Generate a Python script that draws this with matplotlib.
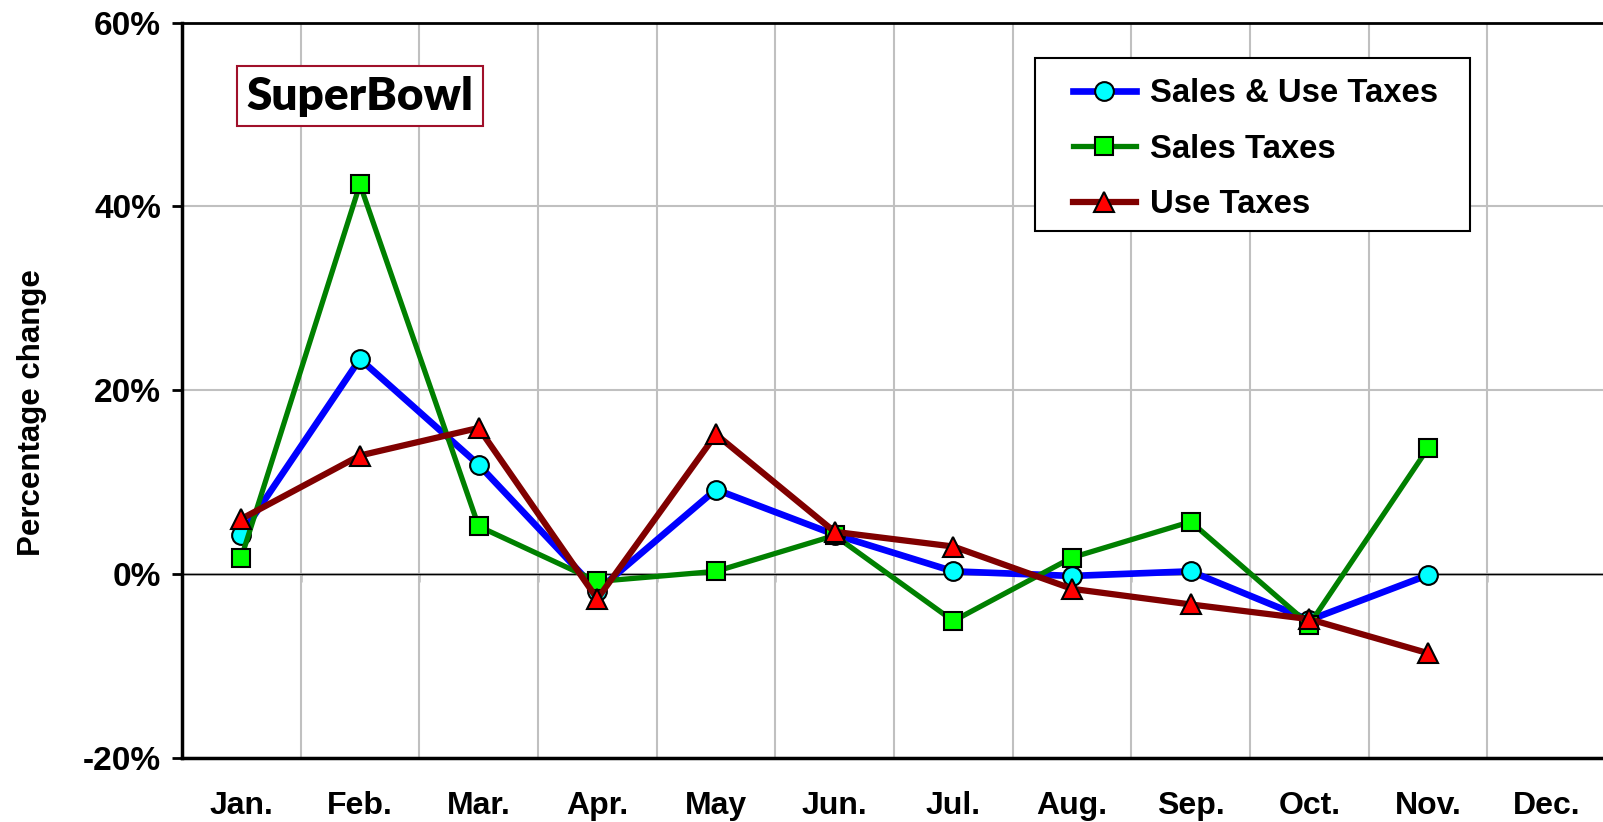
import numpy as np
import matplotlib
matplotlib.use("Agg")
from matplotlib import pyplot as plt
from matplotlib.patches import Rectangle
from matplotlib.ticker import FuncFormatter

# monthly percentage change
months = ["Jan.", "Feb.", "Mar.", "Apr.", "May", "Jun.",
          "Jul.", "Aug.", "Sep.", "Oct.", "Nov.", "Dec."]
sales_use = [4.3, 23.4, 11.9, -1.8, 9.2, 4.3, 0.3, -0.2, 0.3, -5.0, -0.1]
sales = [1.8, 42.4, 5.2, -0.8, 0.3, 4.2, -5.1, 1.8, 5.7, -5.5, 13.7]
use = [6.0, 12.9, 15.9, -2.7, 15.2, 4.6, 3.0, -1.6, -3.3, -4.9, -8.6]
y_ticks = [-20, 0, 20, 40, 60]

NARROW = ["Liberation Sans Narrow", "Liberation Sans", "DejaVu Sans"]
BOLD = ["Liberation Sans", "DejaVu Sans"]

fig = plt.figure(figsize=(16.03, 8.22), dpi=100)
ax = fig.add_axes([0.1135, 0.0779, 0.8884, 0.8947])

x = np.arange(1, len(months) + 1)
ax.set_xlim(0.5, len(months) + 0.5)
ax.set_ylim(y_ticks[0], y_ticks[-1])

# grid: vertical lines between categories, horizontal at the y ticks
ax.set_xticks(x)
ax.set_xticks(x[:-1] + 0.5, minor=True)
ax.set_yticks(y_ticks)
ax.grid(which="minor", axis="x", color="#c0c0c0", lw=1.5)
ax.grid(which="major", axis="y", color="#c0c0c0", lw=1.5)
ax.set_axisbelow(True)

# zero line with small category ticks (Excel style)
ax.axhline(0, color="black", lw=1, zorder=1)
zero = ax.secondary_xaxis((0 - y_ticks[0]) / (y_ticks[-1] - y_ticks[0]))
zero.set_xticks(x[:-1] + 0.5)
zero.tick_params(length=6, width=1, direction="out", labelbottom=False)
zero.spines["bottom"].set_linewidth(1)
zero.spines["bottom"].set_color("black")

n = len(sales_use)
ax.plot(x[:n], sales_use, color="#0000ff", lw=4.8, marker="o", ms=13.5,
        mfc="#00ffff", mec="black", mew=1.5, label="Sales & Use Taxes", zorder=3)
ax.plot(x[:n], sales, color="#008000", lw=3.8, marker="s", ms=13,
        mfc="#00ff00", mec="black", mew=1.5, label="Sales Taxes", zorder=3)
ax.plot(x[:n], use, color="#800000", lw=4.5, marker="^", ms=15,
        mfc="#ff0000", mec="black", mew=1.5, label="Use Taxes", zorder=3)

for side in ["left", "bottom", "top"]:
    ax.spines[side].set_color("black")
ax.spines["left"].set_linewidth(2.5)
ax.spines["bottom"].set_linewidth(2.5)
ax.spines["top"].set_linewidth(2)
ax.spines["right"].set_visible(False)

ax.yaxis.set_major_formatter(FuncFormatter(lambda v, _: f"{v:.0f}%"))
ax.tick_params(axis="y", length=7, width=2, pad=8)
ax.tick_params(axis="x", which="both", length=0, pad=24)
ax.set_xticklabels(months)
for lbl in ax.get_yticklabels():
    lbl.set_fontfamily(NARROW)
    lbl.set_fontweight("bold")
    lbl.set_fontsize(24)
for lbl in ax.get_xticklabels():
    lbl.set_fontfamily(NARROW)
    lbl.set_fontweight("bold")
    lbl.set_fontsize(23)

ax.set_ylabel("Percentage change", family=BOLD, fontweight="bold", fontsize=22.5)
ax.yaxis.set_label_coords(-0.095, 0.47)

ax.text(0.125, 0.900, "SuperBowl", transform=ax.transAxes, ha="center",
        va="center", family=["Lato", "DejaVu Sans"], fontweight="heavy",
        fontsize=33,
        bbox=dict(boxstyle="square,pad=0.2", fc="white", ec="#a0102a", lw=1.5))

# legend entries without frame; frame drawn as its own box underneath
leg = ax.legend(loc="upper left", bbox_to_anchor=(0.6694, 0.905),
                bbox_transform=fig.transFigure, borderaxespad=0,
                prop={"family": BOLD, "weight": "bold", "size": 23.7},
                frameon=False, handlelength=1.9, handletextpad=0.45,
                borderpad=0, labelspacing=0.75)
leg.set_zorder(6)
ax.add_patch(Rectangle((0.6457, 0.7190), 0.2714, 0.2104,
                       transform=fig.transFigure, fc="white", ec="black",
                       lw=1.5, zorder=5, clip_on=False))

fig.savefig("out.png", dpi=100, facecolor="white")
